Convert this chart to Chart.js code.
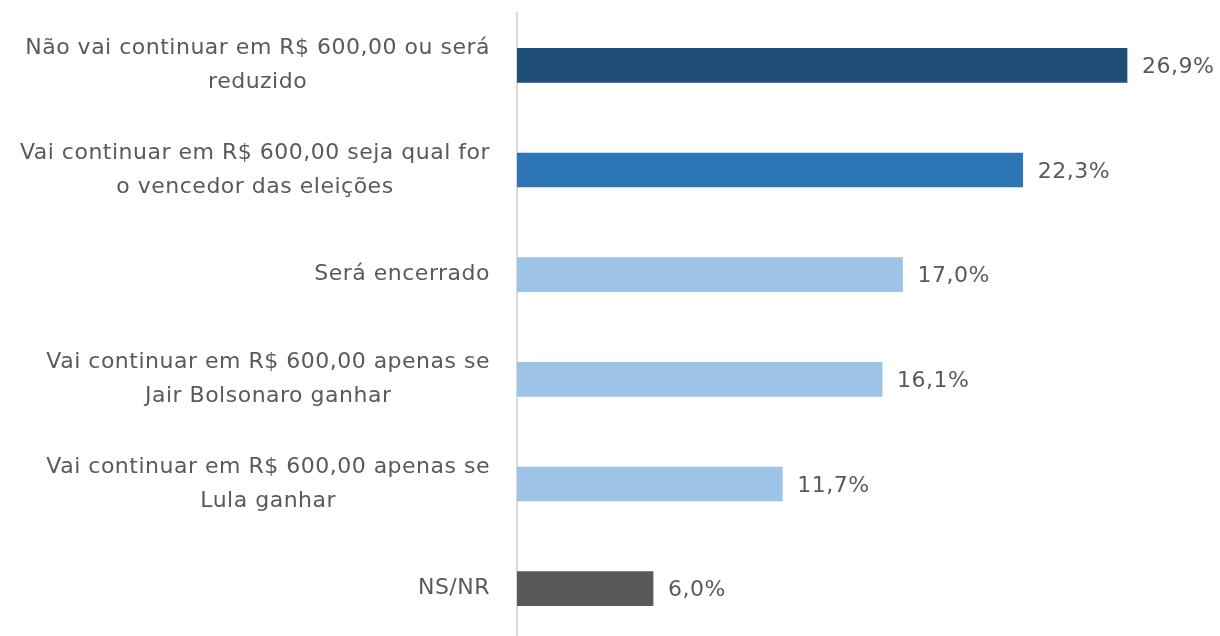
<!DOCTYPE html>
<html>
<head>
<meta charset="utf-8">
<script src="https://cdn.jsdelivr.net/npm/chart.js@4.4.0/dist/chart.umd.min.js"></script>
<style>
  html, body { margin: 0; padding: 0; background: #fff; overflow: hidden; }
  #wrap { position: relative; width: 1220px; height: 641px; }
</style>
</head>
<body>
<div id="wrap"><canvas id="chart"></canvas></div>
<script>
// Categories (each entry is the list of lines of the label)
const categories = [
    ['Não vai continuar em R$ 600,00 ou será', 'reduzido'],
    ['Vai continuar em R$ 600,00 seja qual for', 'o vencedor das eleições'],
    ['Será encerrado'],
    ['Vai continuar em R$ 600,00 apenas se', 'Jair Bolsonaro ganhar'],
    ['Vai continuar em R$ 600,00 apenas se', 'Lula ganhar'],
    ['NS/NR']
];
const values = [26.9, 22.3, 17.0, 16.1, 11.7, 6.0];
const valueLabels = ['26,9%', '22,3%', '17,0%', '16,1%', '11,7%', '6,0%'];
const barColors = ['#1F4E79', '#2E75B6', '#9DC3E6', '#9DC3E6', '#9DC3E6', '#595959'];

const FONT = '"DejaVu Sans", sans-serif';
const TEXT_COLOR = '#5a5a5a';

// Category labels: lines centred on each other, block right-aligned against the axis
// Value labels: placed just after the end of each bar
const labelsPlugin = {
    id: 'labelsPlugin',
    afterDraw(chart) {
        const ctx = chart.ctx;
        const yScale = chart.scales.y;
        const xScale = chart.scales.x;
        ctx.save();
        ctx.fillStyle = TEXT_COLOR;
        ctx.textBaseline = 'middle';
        ctx.font = '22px ' + FONT;
        ctx.letterSpacing = '0.5px';

        const right = chart.chartArea.left - 27;
        const lineHeight = 34;
        categories.forEach(function(lines, i) {
            const w = Math.max.apply(null, lines.map(function(l) { return ctx.measureText(l).width; }));
            const cx = right - w / 2;
            const cy = yScale.getPixelForValue(i);
            ctx.textAlign = 'center';
            lines.forEach(function(line, k) {
                ctx.fillText(line, cx, cy + (k - (lines.length - 1) / 2) * lineHeight);
            });
        });

        ctx.textAlign = 'left';
        values.forEach(function(v, i) {
            ctx.fillText(valueLabels[i], xScale.getPixelForValue(v) + 15, yScale.getPixelForValue(i) + 2);
        });
        ctx.restore();
    }
};

new Chart(document.getElementById('chart').getContext('2d'), {
    type: 'bar',
    data: {
        labels: categories,
        datasets: [{
            data: values,
            backgroundColor: barColors,
            borderWidth: 0,
            barThickness: 34
        }]
    },
    options: {
        indexAxis: 'y',
        responsive: true,
        maintainAspectRatio: false,
        animation: false,
        layout: { padding: { top: 13, left: 0, right: 0, bottom: 0 } },
        plugins: {
            legend: { display: false },
            tooltip: { enabled: false }
        },
        scales: {
            x: {
                display: false,
                min: 0,
                max: 31
            },
            y: {
                grid: { display: false },
                border: { display: true, color: '#d9d9d9', width: 2 },
                ticks: { display: false },
                afterFit: function(scale) { scale.width = 517; }
            }
        }
    },
    plugins: [labelsPlugin]
});
</script>
</body>
</html>
